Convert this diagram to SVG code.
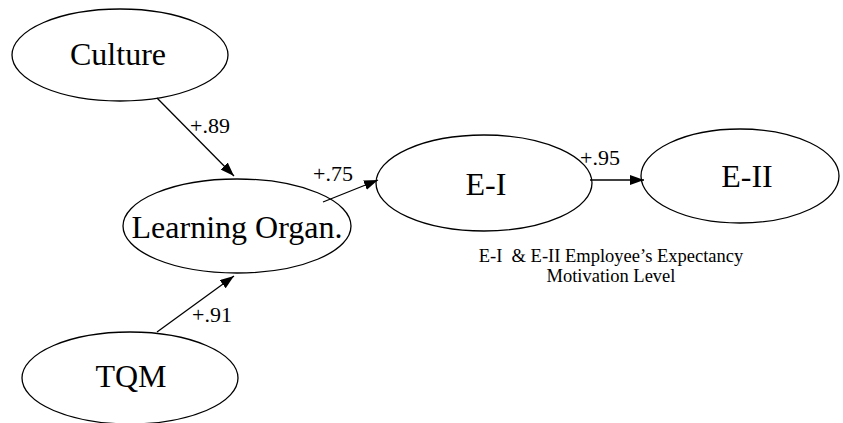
<svg xmlns="http://www.w3.org/2000/svg" width="843" height="423" viewBox="0 0 843 423">
<defs>
<style>
text{font-family:"Liberation Serif","Times New Roman",serif;fill:#000}
.node ellipse{fill:#fff;stroke:#000;stroke-width:1.3}
.node text{font-size:32px;text-anchor:middle}
.lbl{font-size:22px}
.cap{font-size:18.5px;text-anchor:middle}
#connectors line{stroke:#000;stroke-width:1.3;marker-end:url(#ah)}
</style>
<marker id="ah" viewBox="0 0 14 10" refX="14" refY="5" markerWidth="14" markerHeight="10" markerUnits="userSpaceOnUse" orient="auto">
<path d="M0,0 L14,5 L0,10 Z" fill="#000"/>
</marker>
</defs>
<rect width="843" height="423" fill="#fff"/>
<g id="culture" class="node"><ellipse cx="120" cy="55" rx="108" ry="46"/><text x="118" y="65">Culture</text></g>
<g id="learning" class="node"><ellipse cx="237" cy="226" rx="114" ry="47"/><text x="237" y="238">Learning Organ.</text></g>
<g id="tqm" class="node"><ellipse cx="130" cy="378" rx="108" ry="46"/><text x="131" y="387">TQM</text></g>
<g id="e1" class="node"><ellipse cx="484" cy="183" rx="108" ry="48"/><text x="486" y="195">E-I</text></g>
<g id="e2" class="node"><ellipse cx="740" cy="176" rx="99" ry="47"/><text x="747" y="187">E-II</text></g>
<g id="connectors">
<line x1="157" y1="98" x2="234" y2="176"/>
<line x1="157" y1="332" x2="234" y2="276"/>
<line x1="323" y1="202" x2="378" y2="180"/>
<line x1="590" y1="180" x2="644" y2="180"/>
</g>
<g id="labels">
<text class="lbl" x="190" y="133">+.89</text>
<text class="lbl" x="313" y="181">+.75</text>
<text class="lbl" x="192" y="322">+.91</text>
<text class="lbl" x="580" y="165">+.95</text>
</g>
<g id="caption">
<text class="cap" x="611" y="262" xml:space="preserve">E-I  &amp; E-II Employee’s Expectancy</text>
<text class="cap" x="611" y="282">Motivation Level</text>
</g>
</svg>
